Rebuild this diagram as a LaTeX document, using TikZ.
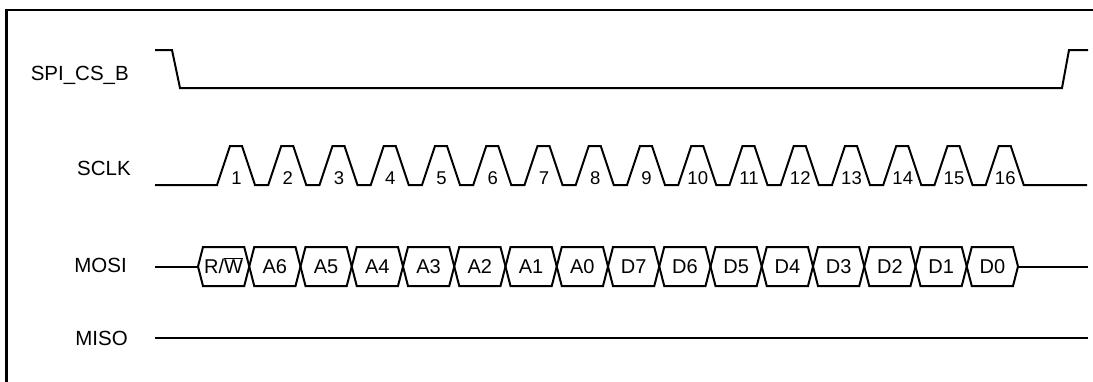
\documentclass[tikz,border=0pt]{standalone}
\usepackage{fontspec}
\setmainfont{Liberation Sans}
\tikzset{
  frame/.style={line width=2.6pt},
  sig/.style={line width=2pt, line join=miter},
  lbl/.style={anchor=base east, inner sep=0pt, font=\fontsize{20.5}{24}\selectfont},
  num/.style={anchor=base, inner sep=0pt, font=\fontsize{18.5}{22}\selectfont},
  hext/.style={anchor=base, inner sep=0pt, font=\fontsize{20}{24}\selectfont},
}
\begin{document}
\begin{tikzpicture}[x=1pt,y=-1pt]
\useasboundingbox (0,0) rectangle (1093,381);
\clip (0,0) rectangle (1093,381);
\fill[white] (0,0) rectangle (1093,381);
\draw[frame] (6.5,10) rectangle (1110,400);

% labels
\node[lbl] (lcs) at (129,80) {SPI\_CS\_B};
\node[lbl] (lclk) at (131,175) {SCLK};
\node[lbl] (lmosi) at (127,272) {MOSI};
\node[lbl] (lmiso) at (128,345) {MISO};

% SPI_CS_B
\draw[sig] (155,50) -- (172,50) -- (180,88) -- (1062,88) -- (1069,50) -- (1088,50);

% SCLK
\draw[sig] (155,185)
  foreach \k in {0,...,15} {
    -- ({217+51.25*\k},185) -- ({230+51.25*\k},146)
    -- ({242+51.25*\k},146) -- ({255+51.25*\k},185)
  } -- (1087,185);
\foreach \n in {1,...,16}
  \node[num] (n\n) at ({236.5+51.25*(\n-1)},184) {\n};

% MOSI
\draw[sig] (155,266.5) -- (198,266.5);
\foreach \t [count=\i from 0] in {{R/$\overline{\mbox{W}}$},A6,A5,A4,A3,A2,A1,A0,D7,D6,D5,D4,D3,D2,D1,D0} {
  \pgfmathsetmacro{\a}{198+51.25*\i}
  \pgfmathsetmacro{\b}{\a+51.25}
  \draw[sig] (\a,266.5) -- ({\a+5},247) -- ({\b-5},247) -- (\b,266.5)
    -- ({\b-5},286) -- ({\a+5},286) -- cycle;
  \node[hext] (h\i) at ({\a+25.625},273.5) {\t};
}
\draw[sig] (1018,266.5) -- (1088,266.5);

% MISO
\draw[sig] (155,338) -- (1088,338);
\end{tikzpicture}
\end{document}
